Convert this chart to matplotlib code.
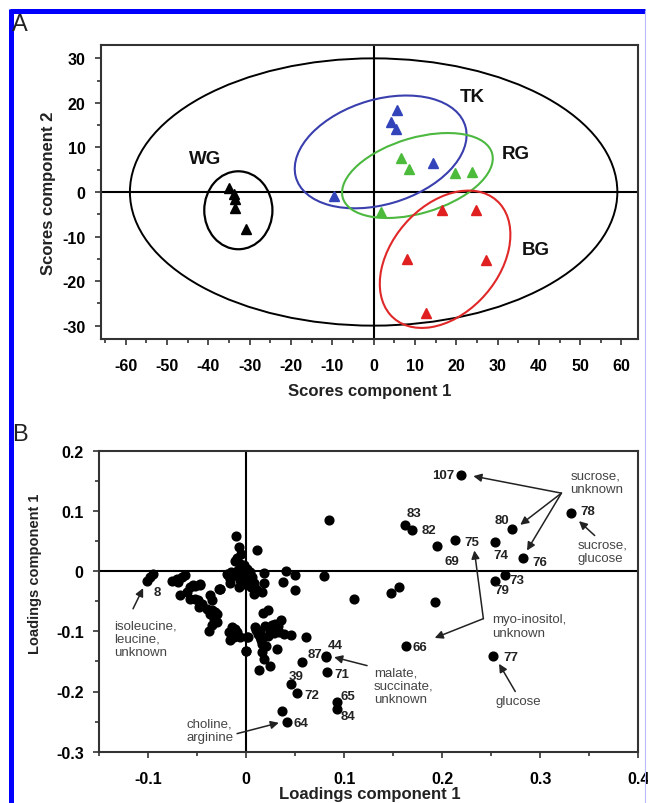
import matplotlib
matplotlib.use("Agg")
import matplotlib.pyplot as plt
from matplotlib.patches import Ellipse
from matplotlib.lines import Line2D

plt.rcParams['font.family'] = ['Liberation Sans', 'DejaVu Sans']

# ---------------- Panel A data (scores) ----------------
wg_x = [-34.9, -33.7, -33.5, -33.6, -31.0]
wg_y = [1.0, -0.4, -1.6, -3.6, -8.2]
tk_x = [5.7, 4.2, 5.3, 14.4, -9.6]
tk_y = [18.3, 15.8, 14.2, 6.4, -1.0]
rg_x = [6.7, 8.6, 19.7, 23.8, 1.9]
rg_y = [7.6, 5.2, 4.3, 4.6, -4.6]
bg_x = [16.5, 24.9, 8.0, 27.3, 12.6]
bg_y = [-4.1, -4.0, -15.0, -15.2, -27.2]

group_names = ["WG", "TK", "RG", "BG"]
group_label_x = [-40.7, 23.8, 34.3, 39.3]
group_label_y = [7.5, 21.5, 8.7, -12.8]

# ellipses: centre x, centre y, width, height, angle
ell_names = ["all", "WG", "TK", "RG", "BG"]
ell_cx = [0.0, -32.75, 1.7, 10.6, 17.3]
ell_cy = [0.0, -4.1, 9.0, 3.7, -15.1]
ell_w = [118.0, 16.5, 42.6, 37.5, 36.4]
ell_h = [60.0, 17.5, 23.6, 17.0, 25.0]
ell_ang = [0.0, 0.0, 15.0, 15.0, 43.0]

a_xticks = [-60, -50, -40, -30, -20, -10, 0, 10, 20, 30, 40, 50, 60]
a_yticks = [-30, -20, -10, 0, 10, 20, 30]

# ---------------- Panel B data (loadings) ----------------
lab_names = ["107", "83", "82", "69", "75", "74", "80", "76", "78", "73", "79",
             "66", "77", "8", "44", "87", "71", "39", "72", "65", "84", "64"]
lab_x = [0.2195, 0.1624, 0.169, 0.1945, 0.2133, 0.254, 0.271, 0.282, 0.331, 0.264, 0.254,
         0.1634, 0.2523, -0.1015, 0.0818, 0.0810, 0.083, 0.0458, 0.0523, 0.0926, 0.0926, 0.042]
lab_y = [0.159, 0.0759, 0.0687, 0.041, 0.051, 0.048, 0.070, 0.0216, 0.097, -0.0072, -0.016,
         -0.125, -0.1407, -0.0166, -0.1415, -0.1435, -0.168, -0.188, -0.203, -0.218, -0.229, -0.250]
# label text positions
lab_tx = [0.2126, 0.1634, 0.179, 0.2026, 0.223, 0.2526, 0.2537, 0.2917, 0.341, 0.269, 0.2537,
          0.170, 0.2625, -0.0948, 0.083, 0.0626, 0.0898, 0.0437, 0.059, 0.0967, 0.0967, 0.0488]
lab_ty = [0.160, 0.097, 0.0675, 0.017, 0.0487, 0.027, 0.0857, 0.015, 0.0997, -0.0156, -0.032,
          -0.126, -0.143, -0.034, -0.1224, -0.137, -0.1706, -0.174, -0.205, -0.2076, -0.240, -0.252]
lab_ha = ["right"] + ["left"] * 21

other_x = [0.1477, 0.1556, 0.1925, 0.0848, 0.110, 0.079, 0.0362, 0.0574, 0.0615,
           -0.098, -0.0948,
           -0.0759, -0.0708, -0.0656, -0.0623, -0.069, -0.0674, -0.0605, -0.052, -0.0468,
           -0.0571, -0.0537, -0.0469, -0.057, -0.052, -0.0486, -0.0451, -0.0366, -0.0349,
           -0.040, -0.0349, -0.0315, -0.0366, -0.033, -0.0297, -0.035, -0.038, -0.0281,
           -0.0263, -0.0297, -0.0485,
           -0.0144, -0.0178, -0.0126, -0.0092, -0.016, -0.0065, -0.011, 0.0, 0.0017,
           -0.0103, -0.0076, -0.0051, 0.0113, -0.011, -0.006, -0.003, -0.008, -0.012, 0.0,
           0.003, -0.004, 0.006, 0.002, 0.008, -0.002, 0.005, 0.010, -0.0195, -0.0264,
           -0.0076, 0.018, 0.018, 0.0164, 0.0078, 0.0403, 0.0495, 0.0379, 0.0495, -0.0161,
           -0.014, -0.009, -0.002, -0.006, 0.001, 0.004, -0.015, -0.018, -0.016,
           0.001, 0.0003, 0.0174, 0.0222, 0.0095, 0.0147, 0.0198, 0.0249, 0.030, 0.0352,
           0.0335, 0.0386, 0.0454, 0.0147, 0.0164, 0.0164, 0.018, 0.0318, 0.0129, 0.0249,
           0.012, 0.022, 0.028, 0.015, 0.020, 0.010, 0.026, 0.033]
other_y = [-0.0366, -0.0266, -0.0515, 0.0842, -0.047, -0.0083, -0.2327, -0.151, -0.1097,
           -0.010, -0.0045,
           -0.0172, -0.0128, -0.010, -0.0073, -0.018, -0.0405, -0.035, -0.024, -0.021,
           -0.0266, -0.0228, -0.0239, -0.046, -0.046, -0.0488, -0.0543, -0.0405, -0.0488,
           -0.0626, -0.0654, -0.068, -0.071, -0.079, -0.085, -0.090, -0.100, -0.0294,
           -0.029, -0.071, -0.060,
           -0.093, -0.101, -0.110, -0.101, -0.115, -0.110, -0.096, -0.132, -0.110,
           0.059, 0.040, 0.0287, 0.0354, 0.0176, 0.012, 0.005, 0.002, -0.003, 0.0,
           -0.004, -0.008, -0.010, -0.015, -0.019, -0.021, -0.026, -0.030, -0.0045, -0.0294,
           -0.0266, -0.0034, -0.020, -0.035, -0.0377, 0.0, -0.0073, -0.018, -0.032, -0.0128,
           -0.008, 0.022, 0.010, -0.015, 0.003, -0.001, -0.001, -0.007, -0.020,
           -0.1097, -0.132, -0.0693, -0.0638, -0.093, -0.0987, -0.0904, -0.0958, -0.0875, -0.082,
           -0.1013, -0.104, -0.1058, -0.1097, -0.121, -0.1346, -0.1457, -0.130, -0.165, -0.157,
           -0.105, -0.108, -0.102, -0.115, -0.125, -0.098, -0.090, -0.092]

# annotation texts: text, x (left), y (centre of block)
note_text = ["sucrose,\nunknown", "sucrose,\nglucose", "myo-inositol,\nunknown", "glucose",
             "malate,\nsuccinate,\nunknown", "isoleucine,\nleucine,\nunknown", "choline,\narginine"]
note_x = [0.3306, 0.3377, 0.2506, 0.254, 0.1305, -0.135, -0.0605]
note_y = [0.147, 0.033, -0.091, -0.215, -0.190, -0.112, -0.265]

# arrows: source (x, y) -> target (x, y)
arr_sx = [0.3216, 0.3216, 0.3216, 0.3555, 0.242, 0.242, 0.2745, 0.1234, -0.1153, -0.0092]
arr_sy = [0.1295, 0.1295, 0.1295, 0.0591, -0.079, -0.079, -0.200, -0.157, -0.0626, -0.270]
arr_tx = [0.2318, 0.2796, 0.2865, 0.3395, 0.2328, 0.1924, 0.258, 0.0898, -0.105, 0.0334]
arr_ty = [0.1578, 0.0769, 0.0342, 0.083, 0.0342, -0.111, -0.154, -0.143, -0.0283, -0.252]

b_xticks = [-0.1, 0.0, 0.1, 0.2, 0.3, 0.4]
b_xticklabels = ["-0.1", "0", "0.1", "0.2", "0.3", "0.4"]
b_yticks = [-0.3, -0.2, -0.1, 0.0, 0.1, 0.2]
b_yticklabels = ["-0.3", "-0.2", "-0.1", "0", "0.1", "0.2"]

# ---------------- Figure ----------------
W, H = 648, 804
fig = plt.figure(figsize=(W / 100, H / 100), dpi=100)
frame_col = '#333333'

def style_axes(ax):
    for s in ax.spines.values():
        s.set_linewidth(1.5)
        s.set_color(frame_col)
    ax.tick_params(which='both', direction='out', width=1.2, color=frame_col,
                   labelsize=11.5, pad=7)
    ax.tick_params(which='major', length=4)
    ax.tick_params(which='minor', length=3)
    for lab in ax.get_xticklabels() + ax.get_yticklabels():
        lab.set_fontweight('bold')

# Panel A
axA = fig.add_axes([101 / W, 1 - 340 / H, (638 - 101) / W, (340 - 46) / H])
axA.set_xlim(-66, 64)
axA.set_ylim(-33, 33)
axA.axhline(0, color='black', lw=1.5, zorder=1)
axA.axvline(0, color='black', lw=1.5, zorder=1)
ell_cols = ['black', 'black', '#3a3fae', '#4cb840', '#e02828']
ell_lws = [1.4, 1.6, 1.5, 1.5, 1.5]
for i in range(len(ell_names)):
    axA.add_patch(Ellipse((ell_cx[i], ell_cy[i]), ell_w[i], ell_h[i], angle=ell_ang[i],
                          fill=False, edgecolor=ell_cols[i], lw=ell_lws[i], zorder=2))
for xs, ys, c in [(wg_x, wg_y, 'black'), (tk_x, tk_y, '#3344bb'),
                  (rg_x, rg_y, '#4cbb3c'), (bg_x, bg_y, '#e02020')]:
    axA.plot(xs, ys, linestyle='none', marker='^', ms=7, color=c, mec=c, zorder=3)
for n, x, y in zip(group_names, group_label_x, group_label_y):
    axA.text(x, y, n, ha='center', va='center', fontsize=13.5, fontweight='bold', color='#111111')
axA.set_xticks(a_xticks)
axA.set_xticklabels([str(t) for t in a_xticks])
axA.set_yticks(a_yticks)
axA.set_yticklabels([str(t) for t in a_yticks])
axA.set_xticks(range(-65, 65, 5), minor=True)
axA.set_yticks(range(-30, 31, 5), minor=True)
style_axes(axA)
axA.tick_params(axis='x', pad=10)
fig.text(370 / W, 1 - 392 / H, "Scores component 1", ha='center', va='center',
         fontsize=12, fontweight='bold', color='#222222')
fig.text(48.5 / W, 1 - 193 / H, "Scores component 2", ha='center', va='center',
         rotation=90, fontsize=12, fontweight='bold', color='#222222')
fig.text(12 / W, 1 - 25 / H, "A", ha='left', va='center', fontsize=17, color='#222222')

# Panel B
axB = fig.add_axes([99 / W, 1 - 752.7 / H, (638.3 - 99) / W, (752.7 - 451.7) / H])
axB.set_xlim(-0.15, 0.4)
axB.set_ylim(-0.3, 0.2)
axB.axhline(0, color='black', lw=1.5, zorder=1)
axB.axvline(0, color='black', lw=1.5, zorder=1)
axB.plot(other_x, other_y, linestyle='none', marker='o', ms=6.3, color='black', zorder=3)
axB.plot(lab_x, lab_y, linestyle='none', marker='o', ms=6.3, color='black', zorder=3)
for n, tx, ty, ha in zip(lab_names, lab_tx, lab_ty, lab_ha):
    axB.text(tx, ty, n, ha=ha, va='center', fontsize=9.5, fontweight='bold', color='#222222')
for t, x, y in zip(note_text, note_x, note_y):
    axB.text(x, y, t, ha='left', va='center', fontsize=9.5, color='#444444', linespacing=1.15)
for sx, sy, tx, ty in zip(arr_sx, arr_sy, arr_tx, arr_ty):
    axB.annotate("", xy=(tx, ty), xytext=(sx, sy),
                 arrowprops=dict(arrowstyle='-|>', color='#222222', lw=1.1,
                                 mutation_scale=12, shrinkA=0, shrinkB=0))
axB.set_xticks(b_xticks)
axB.set_xticklabels(b_xticklabels)
axB.set_yticks(b_yticks)
axB.set_yticklabels(b_yticklabels)
axB.set_xticks([-0.15 + 0.05 * i for i in range(12)], minor=True)
axB.set_yticks([-0.3 + 0.05 * i for i in range(11)], minor=True)
style_axes(axB)
axB.tick_params(axis='x', pad=10)
fig.text(370 / W, 1 - 795 / H, "Loadings component 1", ha='center', va='center',
         fontsize=12, fontweight='bold', color='#222222')
fig.text(35 / W, 1 - 574 / H, "Loadings component 1", ha='center', va='center',
         rotation=90, fontsize=10.5, fontweight='bold', color='#222222')
fig.text(12 / W, 1 - 435 / H, "B", ha='left', va='center', fontsize=17, color='#222222')

# blue selection frame around the figure
fig.add_artist(Line2D([10 / W, 645 / W], [1 - 12 / H, 1 - 12 / H], transform=fig.transFigure,
                      color='#0000ff', lw=3.6, solid_capstyle='butt'))
fig.add_artist(Line2D([10.5 / W, 10.5 / W], [1 - 10 / H, 0], transform=fig.transFigure,
                      color='#0000ff', lw=3.6, solid_capstyle='butt'))
fig.add_artist(Line2D([644.5 / W, 644.5 / W], [1 - 12 / H, 0], transform=fig.transFigure,
                      color='#b8bcff', lw=0.8))

fig.savefig("out.png", dpi=100)
